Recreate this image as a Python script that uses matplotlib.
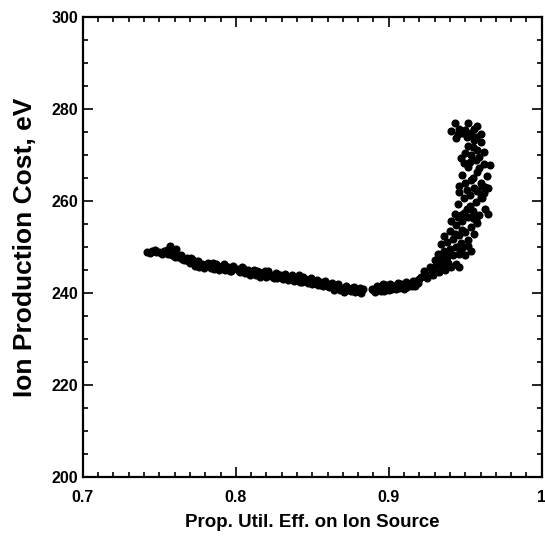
"""Ion production cost vs propellant utilization efficiency on ion source."""
import matplotlib
matplotlib.use("Agg")
import matplotlib.pyplot as plt
from matplotlib.ticker import MultipleLocator

plt.rcParams["font.family"] = ["Liberation Sans", "DejaVu Sans"]

# flat descending branch
x_left = [0.742, 0.745, 0.748, 0.750, 0.752, 0.755, 0.757, 0.758, 0.760, 0.761,
          0.763, 0.765, 0.768, 0.770, 0.772, 0.774, 0.776, 0.778, 0.779, 0.781,
          0.783, 0.785, 0.786, 0.788, 0.790, 0.792, 0.793, 0.795, 0.797, 0.799,
          0.744, 0.747, 0.753, 0.756, 0.759, 0.762, 0.764, 0.766, 0.769, 0.771,
          0.773, 0.775, 0.777, 0.780, 0.782, 0.784, 0.787, 0.789, 0.791, 0.794,
          0.796, 0.798]
y_left = [249.0, 249.2, 248.9, 249.0, 248.6, 249.3, 250.3, 248.4, 247.8, 249.6,
          248.0, 247.4, 247.6, 246.6, 247.2, 246.3, 245.8, 246.4, 245.5, 246.1,
          245.7, 246.6, 245.2, 246.0, 245.4, 246.3, 245.0, 245.8, 244.9, 245.5,
          248.7, 249.4, 249.1, 248.6, 248.9, 247.9, 248.4, 247.3, 246.9, 247.6,
          246.0, 246.9, 246.1, 245.9, 246.5, 245.4, 246.3, 245.1, 245.9, 245.6,
          244.8, 245.9]

x_mid = [0.801, 0.803, 0.805, 0.806, 0.808, 0.810, 0.812, 0.813, 0.815, 0.817,
         0.819, 0.820, 0.822, 0.824, 0.826, 0.827, 0.829, 0.831, 0.833, 0.834,
         0.836, 0.838, 0.840, 0.841, 0.843, 0.845, 0.847, 0.848, 0.850, 0.852,
         0.854, 0.855, 0.857, 0.859, 0.861, 0.862, 0.864, 0.866, 0.868, 0.869,
         0.871, 0.873, 0.875, 0.876, 0.878, 0.880, 0.882, 0.883,
         0.802, 0.804, 0.807, 0.809, 0.811, 0.814, 0.816, 0.818, 0.821, 0.823,
         0.825, 0.828, 0.830, 0.832, 0.835, 0.837, 0.839, 0.842, 0.844, 0.846,
         0.849, 0.851, 0.853, 0.856, 0.858, 0.860, 0.863, 0.865, 0.867, 0.870,
         0.872, 0.874, 0.877, 0.879, 0.881]
y_mid = [245.3, 244.6, 245.5, 244.3, 245.0, 244.4, 245.1, 243.9, 244.6, 244.0,
         244.8, 243.6, 244.2, 243.5, 244.4, 243.3, 243.9, 243.0, 243.8, 242.9,
         243.5, 242.6, 243.2, 243.9, 242.5, 243.1, 242.3, 242.9, 242.0, 242.7,
         241.8, 242.4, 241.5, 242.2, 241.3, 242.0, 240.8, 241.6, 240.6, 241.2,
         240.3, 241.0, 240.4, 241.1, 240.2, 240.7, 240.1, 240.9,
         244.8, 245.6, 244.9, 243.9, 244.6, 244.9, 243.5, 244.3, 244.8, 243.8,
         243.2, 244.0, 243.4, 244.2, 243.2, 243.9, 242.9, 242.5, 243.6, 242.6,
         243.3, 242.3, 242.9, 241.8, 242.6, 241.6, 242.3, 241.2, 241.9, 240.8,
         241.5, 240.6, 241.3, 240.5, 241.2]

x_min = [0.889, 0.891, 0.892, 0.894, 0.896, 0.897, 0.899, 0.901, 0.902, 0.904,
         0.906, 0.907, 0.909, 0.911, 0.912, 0.914, 0.916, 0.917, 0.919, 0.920,
         0.890, 0.893, 0.895, 0.898, 0.900, 0.903, 0.905, 0.908, 0.910, 0.913,
         0.915, 0.918]
y_min = [241.0, 240.3, 241.6, 240.8, 241.9, 240.5, 241.3, 242.0, 240.9, 241.5,
         242.2, 241.1, 241.7, 242.4, 241.3, 242.0, 242.6, 241.6, 242.3, 243.0,
         240.6, 241.2, 240.4, 241.8, 240.7, 241.6, 241.0, 242.1, 241.0, 242.1,
         241.5, 242.7]

# steep rising branch
x_rise = [0.921, 0.923, 0.925, 0.927, 0.929, 0.931, 0.933, 0.935, 0.937, 0.939,
          0.941, 0.944, 0.946,
          0.930, 0.932, 0.934, 0.936, 0.938, 0.940, 0.942, 0.944, 0.946, 0.948,
          0.950, 0.952, 0.954,
          0.934, 0.936, 0.938, 0.940, 0.942, 0.944, 0.946, 0.948, 0.950, 0.952,
          0.954, 0.956, 0.958, 0.941, 0.947, 0.955,
          0.943, 0.945, 0.947, 0.949, 0.951, 0.953, 0.955, 0.957, 0.959, 0.961,
          0.963, 0.965, 0.946, 0.952, 0.958, 0.962,
          0.946, 0.948, 0.950, 0.952, 0.954, 0.956, 0.958, 0.960, 0.962, 0.964,
          0.966, 0.965, 0.953, 0.957, 0.949, 0.961,
          0.924, 0.928, 0.932, 0.936, 0.939, 0.943, 0.945, 0.949, 0.951, 0.955,
          0.959, 0.963, 0.957, 0.948, 0.953, 0.960]
y_rise = [243.5, 244.8, 243.2, 245.6, 244.0, 245.9, 244.6, 246.2, 245.1, 246.5,
          245.6, 246.3, 245.8,
          247.2, 248.5, 247.0, 249.2, 247.8, 249.6, 248.3, 250.0, 248.6, 249.8,
          248.4, 250.3, 249.1,
          250.8, 252.5, 251.2, 253.6, 251.8, 254.9, 252.7, 255.6, 253.4, 251.6,
          254.5, 252.8, 255.2, 255.8, 250.9, 256.3,
          257.3, 259.5, 257.0, 260.8, 258.2, 261.4, 257.8, 259.9, 256.9, 260.6,
          258.4, 257.2, 262.0, 256.5, 262.3, 261.8,
          263.2, 265.8, 263.9, 267.4, 264.6, 262.8, 266.3, 264.0, 268.1, 265.5,
          267.9, 262.9, 268.6, 269.0, 268.2, 263.3,
          244.2, 244.9, 246.8, 247.6, 248.9, 252.9, 256.5, 257.4, 262.4, 265.1,
          267.2, 263.0, 256.0, 253.8, 259.0, 261.0]

x_top = [0.950, 0.952, 0.954, 0.956, 0.958, 0.960, 0.962, 0.951, 0.955, 0.959,
         0.941, 0.943, 0.945, 0.946, 0.948, 0.950, 0.952, 0.954, 0.956, 0.958,
         0.960, 0.947, 0.944, 0.957, 0.953]
y_top = [270.4, 272.0, 270.1, 273.2, 271.1, 272.9, 270.6, 273.9, 271.8, 269.6,
         275.2, 277.0, 274.6, 275.8, 274.9, 275.5, 276.9, 274.8, 275.6, 276.4,
         274.6, 269.5, 273.8, 274.0, 274.5]

x_all = x_left + x_mid + x_min + x_rise + x_top
y_all = y_left + y_mid + y_min + y_rise + y_top

fig = plt.figure(figsize=(5.45, 5.38), dpi=100)
ax = fig.add_axes([0.152, 0.113, 0.842, 0.855])

ax.scatter(x_all, y_all, s=34, color="black", linewidths=0, zorder=3)

ax.set_xlim(0.7, 1.0)
ax.set_ylim(200, 300)
ax.xaxis.set_minor_locator(MultipleLocator(0.01))
ax.yaxis.set_major_locator(MultipleLocator(20))
ax.yaxis.set_minor_locator(MultipleLocator(5))
ax.set_xticks([0.7, 0.8, 0.9, 1.0])
ax.set_xticklabels(["0.7", "0.8", "0.9", "1"])

ax.tick_params(which="both", direction="in", top=True, right=True,
               labelsize=11.5, width=1.2)
ax.tick_params(which="major", length=7)
ax.tick_params(which="minor", length=3.5)
ax.tick_params(axis="x", pad=9)
ax.tick_params(axis="y", pad=3.5)
for lbl in ax.get_xticklabels() + ax.get_yticklabels():
    lbl.set_fontweight("bold")
for sp in ax.spines.values():
    sp.set_linewidth(1.6)

ax.set_xlabel("Prop. Util. Eff. on Ion Source", fontsize=13.5, fontweight="bold",
              labelpad=7)
ax.set_ylabel("Ion Production Cost, eV", fontsize=19, fontweight="bold",
              labelpad=10)

fig.savefig("out.png", dpi=100)
